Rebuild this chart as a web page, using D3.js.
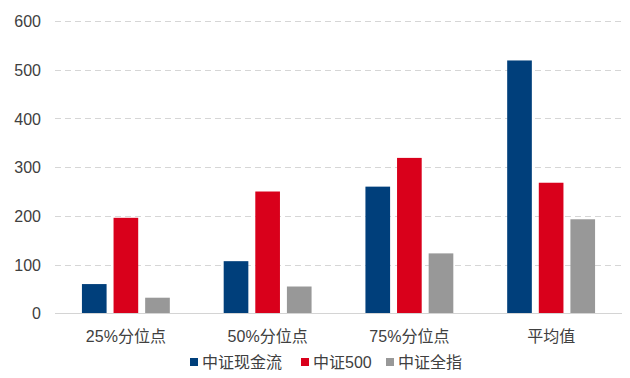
<!DOCTYPE html>
<html><head><meta charset="utf-8">
<script src="https://cdn.jsdelivr.net/npm/d3@7/dist/d3.min.js"></script>
<style>body{margin:0;background:#fff}svg{display:block}</style>
</head><body><svg id="c" width="630" height="378"></svg>
<script>
const categories = ["25%分位点", "50%分位点", "75%分位点", "平均值"];
const seriesNames = ["中证现金流", "中证500", "中证全指"];
const cashFlow = [60, 107, 260, 519];
const csi500 = [196, 250, 319, 268];
const csiAll = [32, 55, 123, 193];
const yTicks = [0, 100, 200, 300, 400, 500, 600];
const colors = ["#003F7B", "#D9001B", "#989898"];

const seriesValues = [cashFlow, csi500, csiAll];
const svg = d3.select("#c");
const font = "'Liberation Sans', Arial, 'Noto Sans CJK SC', sans-serif";
const m = {left: 55, right: 8, top: 21, bottom: 65};
const W = 630, H = 378;
const x0 = d3.scaleBand().domain(categories).range([m.left, W - m.right]).paddingInner(0.38).paddingOuter(0.19);
const x1 = d3.scaleBand().domain(seriesNames).range([0, x0.bandwidth()]).paddingInner(0.22);
const y = d3.scaleLinear().domain([0, 600]).range([313.3, 21]);

// grid
svg.append("g").selectAll("line").data(yTicks.filter(d => d > 0)).join("line")
  .attr("x1", m.left).attr("x2", W - m.right)
  .attr("y1", d => Math.round(y(d)) + 0.5).attr("y2", d => Math.round(y(d)) + 0.5)
  .attr("stroke", "#d6d6d6").attr("stroke-width", 1).attr("stroke-dasharray", "6,4");

// y axis labels
const yAxis = d3.axisLeft(y).tickValues(yTicks).tickSize(0).tickPadding(0);
const ga = svg.append("g").attr("transform", `translate(41,0)`).call(yAxis);
ga.select(".domain").remove();
ga.selectAll("text").attr("font-family", font).attr("font-size", 16).attr("fill", "#404040").attr("dy", "0.35em");

// bars
const groups = svg.append("g").selectAll("g").data(categories).join("g")
  .attr("transform", d => `translate(${x0(d)},0)`);
groups.selectAll("rect").data((c, i) => seriesNames.map((s, j) => ({s, v: seriesValues[j][i], j})))
  .join("rect")
  .attr("x", d => x1(d.s)).attr("width", x1.bandwidth())
  .attr("y", d => y(d.v)).attr("height", d => y(0) - y(d.v))
  .attr("fill", d => colors[d.j]);

// baseline
svg.append("line").attr("x1", m.left).attr("x2", W - m.right)
  .attr("y1", 313.5).attr("y2", 313.5).attr("stroke", "#d4d4d4").attr("stroke-width", 1.2);

// x axis labels
const xAxis = d3.axisBottom(x0).tickSize(0).tickPadding(0);
const gx = svg.append("g").attr("transform", "translate(0,336)").call(xAxis);
gx.select(".domain").remove();
gx.selectAll("text").attr("font-family", font).attr("font-size", 16).attr("fill", "#404040").attr("dy", "0.35em");

// legend
const legendX = [190, 301, 386];
const lg = svg.append("g").selectAll("g").data(seriesNames).join("g")
  .attr("transform", (d, i) => `translate(${legendX[i]},362)`);
lg.append("rect").attr("x", 0).attr("y", -4).attr("width", 8).attr("height", 8).attr("fill", (d, i) => colors[i]);
lg.append("text").attr("x", 12).attr("dy", "0.35em").attr("font-family", font).attr("font-size", 16)
  .attr("fill", "#404040").text(d => d);
</script></body></html>
